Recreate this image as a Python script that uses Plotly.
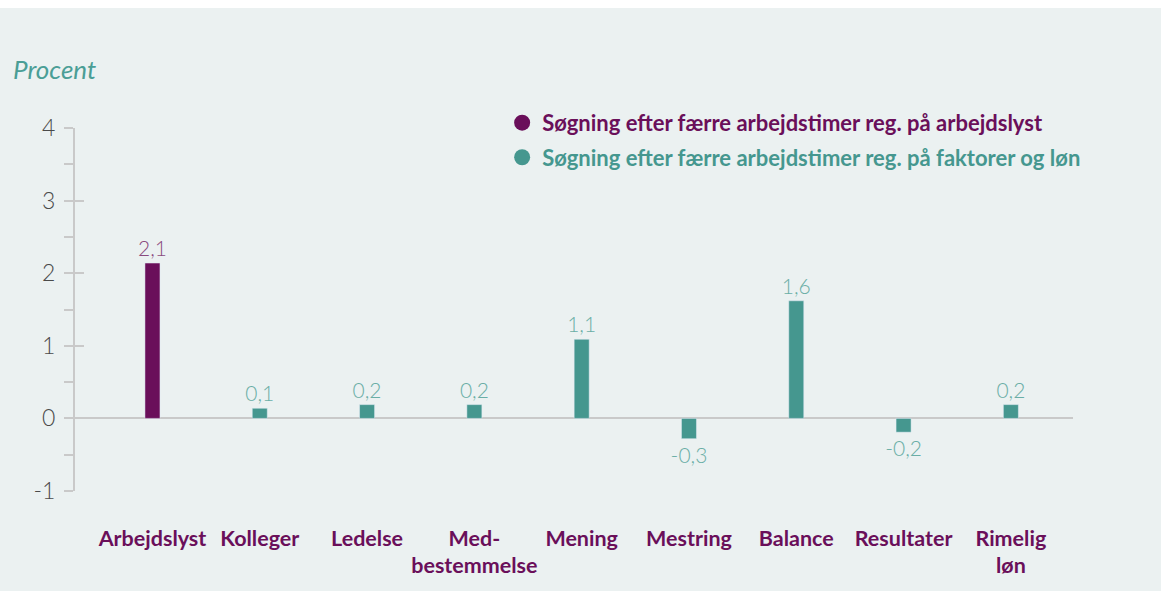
import plotly.graph_objects as go

categories = ["Arbejdslyst", "Kolleger", "Ledelse", "Med-<br>bestemmelse", "Mening",
              "Mestring", "Balance", "Resultater", "Rimelig<br>løn"]
series1_name = "Søgning efter færre arbejdstimer reg. på arbejdslyst"
series1_cats = ["Arbejdslyst"]
series1_vals = [2.14]
series2_name = "Søgning efter færre arbejdstimer reg. på faktorer og løn"
series2_cats = categories[1:]
series2_vals = [0.14, 0.19, 0.19, 1.09, -0.28, 1.62, -0.19, 0.19]
y_ticks = [-1, 0, 1, 2, 3, 4]
y_ticktext = ["-1", "0", "1", "2", "3", "4"]

PURPLE = "#6A0F5A"
TEAL = "#45978F"
PURPLE_TXT = "#8A4A7E"
TEAL_TXT = "#6AAEA6"
BG = "#EBF1F1"
FONT = "Lato"


def fmt(v):
    return f"{v:.1f}".replace(".", ",")


fig = go.Figure()
fig.add_trace(go.Bar(
    x=series1_cats, y=series1_vals, marker_color=PURPLE, width=0.14,
    text=[fmt(v) for v in series1_vals], textposition="outside", constraintext="none",
    textfont=dict(family=FONT, size=21, color=PURPLE_TXT, weight=300),
    cliponaxis=False, showlegend=False))
fig.add_trace(go.Bar(
    x=series2_cats, y=series2_vals, marker_color=TEAL, width=0.14,
    text=[fmt(v) for v in series2_vals], textposition="outside", constraintext="none",
    textfont=dict(family=FONT, size=21, color=TEAL_TXT, weight=300),
    cliponaxis=False, showlegend=False))

# legend entries with circle markers
fig.add_trace(go.Scatter(x=[None], y=[None], mode="markers", legendgroup="a",
                         marker=dict(size=18, color=PURPLE, symbol="circle"),
                         name=f"<span style='color:{PURPLE}'><b>{series1_name}</b></span>"))
fig.add_trace(go.Scatter(x=[None], y=[None], mode="markers", legendgroup="b",
                         marker=dict(size=18, color=TEAL, symbol="circle"),
                         name=f"<span style='color:{TEAL}'><b>{series2_name}</b></span>"))

axis_common = dict(range=[-1, 4], tickvals=y_ticks, ticktext=y_ticktext, showgrid=False,
                   showline=True, linecolor="#C9C9C9", linewidth=2,
                   tickcolor="#C9C9C9", tickwidth=2, ticklen=9,
                   minor=dict(dtick=0.5, ticklen=9, tickcolor="#C9C9C9", tickwidth=2,
                              showgrid=False))

fig.update_layout(
    width=1161, height=591,
    margin=dict(l=75, r=88, t=128, b=100),
    paper_bgcolor="white", plot_bgcolor="rgba(0,0,0,0)",
    barmode="overlay",
    font=dict(family=FONT),
    xaxis=dict(categoryorder="array", categoryarray=categories,
               range=[-0.722, 8.579], showgrid=False, showline=False, zeroline=False,
               ticks="", ticklabelstandoff=32,
               tickfont=dict(family=FONT, size=21.5, color=PURPLE, weight=700)),
    yaxis=dict(**axis_common, ticks="outside", zeroline=True, zerolinecolor="#C9C9C9",
               zerolinewidth=2, tickfont=dict(family=FONT, size=23, color="#4A4A4A", weight=300),
               ticklabelstandoff=4),
    yaxis2=dict(**axis_common, ticks="inside", overlaying="y", side="left",
                showticklabels=False, zeroline=False),
    legend=dict(x=0.428, y=1.072, xanchor="left", yanchor="top",
                bgcolor="rgba(0,0,0,0)", tracegroupgap=3,
                font=dict(family=FONT, size=22), itemwidth=30),
    shapes=[dict(type="rect", xref="paper", yref="paper",
                 x0=-0.0752, x1=1.0882, y0=-0.2755, y1=1.3306,
                 fillcolor=BG, line_width=0, layer="below")],
    annotations=[dict(text="Procent", xref="paper", yref="paper",
                      x=-0.064, y=1.162, xanchor="left", yanchor="middle",
                      showarrow=False,
                      font=dict(family=FONT, size=26, color="#4A9E96", style="italic"))],
)
# dummy trace on yaxis2 so it renders
fig.add_trace(go.Scatter(x=[None], y=[None], yaxis="y2", showlegend=False))

fig.write_html("out.html", config={"displayModeBar": False},
               post_script="document.body.style.margin='0';document.body.style.padding='0';")
